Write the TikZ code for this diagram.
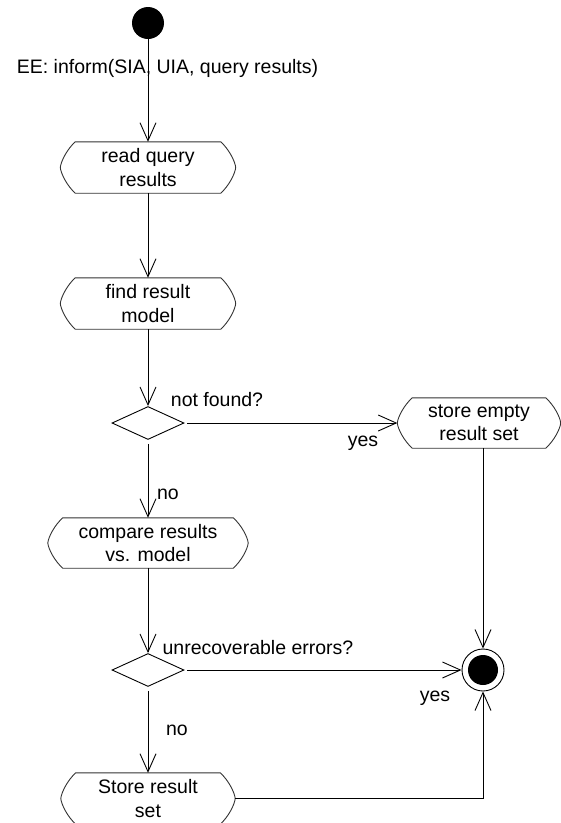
\documentclass[tikz,border=0pt]{standalone}
\usepackage{fontspec}
\setmainfont{Liberation Sans}
\usetikzlibrary{arrows.meta,shapes.geometric,calc}
\newcommand\actoutline[1]{%
  \draw[actline] ([xshift=15pt]#1.north west) -- ([xshift=-15pt]#1.north east)
    .. controls ([xshift=-7pt,yshift=-7pt]#1.north east) and ([xshift=-0.5pt,yshift=6pt]#1.east) .. (#1.east)
    .. controls ([xshift=-0.5pt,yshift=-6pt]#1.east) and ([xshift=-7pt,yshift=7pt]#1.south east) .. ([xshift=-15pt]#1.south east)
    -- ([xshift=15pt]#1.south west)
    .. controls ([xshift=7pt,yshift=7pt]#1.south west) and ([xshift=0.5pt,yshift=-6pt]#1.west) .. (#1.west)
    .. controls ([xshift=0.5pt,yshift=6pt]#1.west) and ([xshift=7pt,yshift=-7pt]#1.north west) .. ([xshift=15pt]#1.north west)
    -- cycle;}
\begin{document}
\begin{tikzpicture}[x=1pt,y=-1pt,
  font=\fontsize{19.5}{23.5}\selectfont,
  act/.style={inner sep=0pt, align=center, minimum height=51pt},
  actline/.style={draw=black!80, line width=0.9pt},
  dec/.style={diamond, draw, line width=0.9pt, inner sep=0pt, minimum width=72pt, minimum height=33pt},
  flow/.style={line width=0.9pt, -{Straight Barb[length=18pt,width=16pt]}},
  lbl/.style={inner sep=0pt}]
\useasboundingbox (0,0) rectangle (561,823);
% nodes
\node[circle, fill=black, minimum size=32pt, inner sep=0pt] (init) at (148,23) {};
\node[act, minimum width=175pt] (read) at (148,167.5) {read query\\results};
\node[act, minimum width=175pt] (find) at (148,303.5) {find result\\model};
\node[dec] (d1) at (148,423) {};
\node[act, minimum width=163pt, minimum height=50pt] (empty) at (479,423) {store empty\\result set};
\node[act, minimum width=200pt, minimum height=50pt] (compare) at (148,543) {compare results\\vs. model};
\node[dec] (d2) at (148,670) {};
\node[circle, draw, line width=0.9pt, minimum size=42pt, inner sep=0pt] (final) at (483,670) {};
\fill (final.center) circle[radius=15pt];
\node[act, minimum width=174pt] (store) at (148,798.5) {Store result\\set};
\actoutline{read}
\actoutline{find}
\actoutline{empty}
\actoutline{compare}
\actoutline{store}
% labels
\node[lbl] (l0) at (167.5,68) {EE: inform(SIA, UIA, query results)};
\node[lbl] (l1) at (217,400) {not found?};
\node[lbl] (l2) at (363,443) {yes};
\node[lbl] (l3) at (168,494) {no};
\node[lbl] (l4) at (258,648) {unrecoverable errors?};
\node[lbl] (l5) at (435,698) {yes};
\node[lbl] (l6) at (177,730) {no};
% connectors
\draw[flow] (init) -- (read);
\draw[flow] (read) -- (find);
\draw[flow] (find) -- (d1);
\draw[flow, shorten <=3pt] (d1.east) -- (empty.west);
\draw[flow, shorten <=4pt] (d1.south) -- (compare.north);
\draw[flow] (compare) -- (d2);
\draw[flow, shorten <=3pt] (d2.east) -- (final.west);
\draw[flow, shorten <=4pt] (d2.south) -- (store.north);
\draw[flow] (empty.south -| final) -- (final.north);
\draw[flow] (store.east) -| (final.south);
\end{tikzpicture}
\end{document}
